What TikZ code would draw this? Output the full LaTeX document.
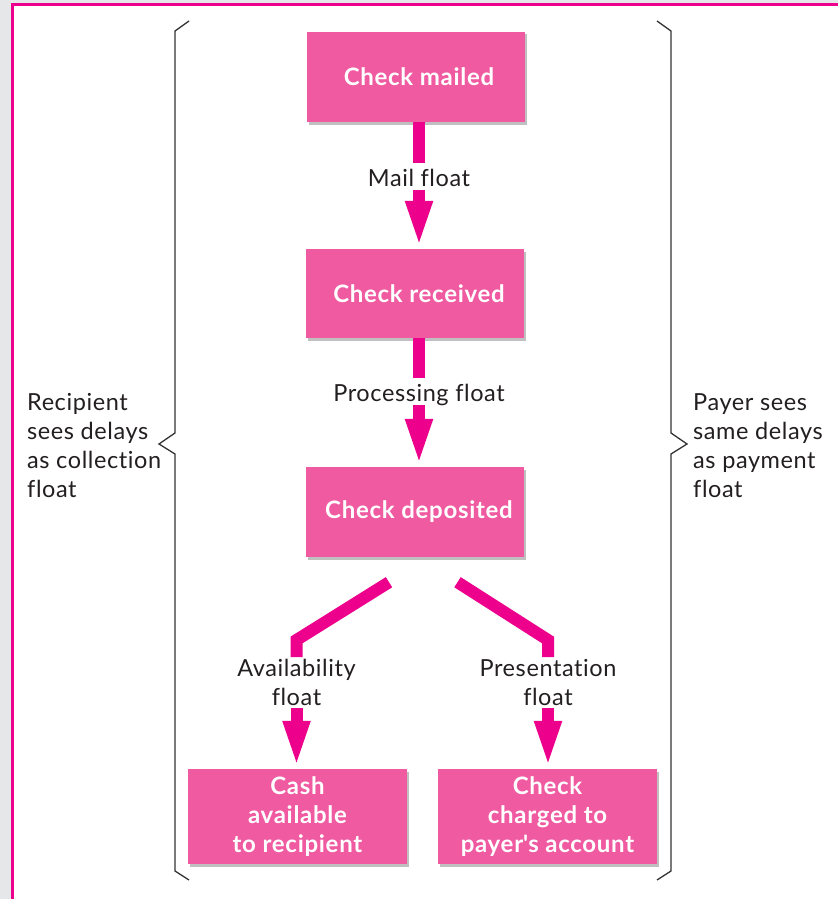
\documentclass[tikz,border=0pt]{standalone}
\usepackage{fontspec}
\setmainfont{Lato}
\newfontfamily\regfont[LetterSpace=2.5,Ligatures={NoCommon,TeX}]{Lato}
\newfontfamily\boldfont[LetterSpace=3,Ligatures={NoCommon,TeX},UprightFont=* Bold]{Lato}
\usetikzlibrary{arrows.meta,shadows,calc}
\definecolor{boxpink}{RGB}{239,90,161}
\definecolor{magentaarrow}{RGB}{236,0,140}
\definecolor{bggray}{RGB}{230,231,232}
\definecolor{ink}{RGB}{35,31,32}
\definecolor{bracegray}{RGB}{51,51,51}
\begin{document}
\begin{tikzpicture}[x=1pt,y=-1pt,
  box/.style={rectangle, fill=boxpink, minimum width=218pt, minimum height=90pt,
    text=white, font=\boldfont\fontsize{24}{29}\selectfont, align=center, inner sep=0pt,
    drop shadow={shadow xshift=2pt, shadow yshift=-2.5pt, opacity=0.35, fill=black!70}},
  lbl/.style={font=\regfont\fontsize{23.5}{29}\selectfont, text=ink, inner xsep=0pt, inner ysep=4pt,
    text height=19pt, text depth=0pt, anchor=base},
  lbltwo/.style={font=\regfont\fontsize{23.5}{29}\selectfont, text=ink, align=center, inner xsep=0pt,
    inner ysep=2pt, anchor=north},
  shaft/.style={draw=magentaarrow, line width=12pt, line cap=butt, line join=miter},
  arr/.style={shaft, -{Triangle[width=24pt,length=48pt]}},
  bracestyle/.style={draw=bracegray, line width=1.3pt, line join=miter},
  side/.style={font=\regfont\fontsize{23.5}{29}\selectfont, text=ink, align=left, inner sep=0pt, anchor=north west}
]
\useasboundingbox (0,0) rectangle (838,899);
\fill[bggray] (0,0) rectangle (838,899);
\fill[white] (12.3,5) rectangle (838,899);
\draw[magentaarrow, line width=3pt] (12.3,899) -- (12.3,5) -- (838,5);

% boxes
\node[box] (mailed) at (415.5,77) {\hspace*{7pt}Check mailed};
\node[box, minimum height=89pt] (received) at (415,293.5) {\hspace*{8pt}Check received};
\node[box] (deposited) at (415,512) {\hspace*{8pt}Check deposited};
\node[box, minimum width=219pt, minimum height=95pt] (cash) at (297.5,816.5) {Cash\\available\\to recipient};
\node[box, minimum width=219pt, minimum height=95pt] (charged) at (547.5,816.5) {Check\\charged to\\payer\textquotesingle s account};

% labels
\node[lbl] (mailfl) at (419,186) {Mail float};
\node[lbl] (procfl) at (419,401) {Processing float};
\node[lbltwo] (avail) at (296.5,657) {Availability\\float};
\node[lbltwo] (present) at (548,657) {Presentation\\float};

% main arrows
\draw[shaft] (mailed.south -| mailfl.north) -- (mailfl.north);
\draw[arr] (mailfl.south) -- (mailfl.south |- received.north);
\draw[shaft] (received.south -| procfl.north) -- (procfl.north);
\draw[arr] (procfl.south) -- (procfl.south |- deposited.north);

% branches
\coordinate (bl0) at ($(deposited.south)+(-26,25)$);
\coordinate (bl1) at (296.5,640);
\coordinate (br0) at ($(deposited.south)+(42.5,25)$);
\coordinate (br1) at (548,640);
\draw[shaft] (bl0) -- (bl1) -- (avail.north);
\draw[shaft] (br0) -- (br1) -- (present.north);
\draw[arr] (avail.south) -- (avail.south |- cash.north);
\draw[arr] (present.south) -- (present.south |- charged.north);

% braces
\draw[bracestyle] (189,21) -- (175,31) -- (175,433) -- (159,444) -- (175,454) -- (175,871) -- (189,880);
\draw[bracestyle] (657,21) -- (671,31) -- (671,433) -- (687,444) -- (671,454) -- (671,871) -- (657,880);

% side texts
\node[side] (lefttxt) at (27,393) {Recipient\\sees delays\\as collection\\float};
\node[side] (righttxt) at (693,393) {Payer sees\\same delays\\as payment\\float};
\end{tikzpicture}
\end{document}
